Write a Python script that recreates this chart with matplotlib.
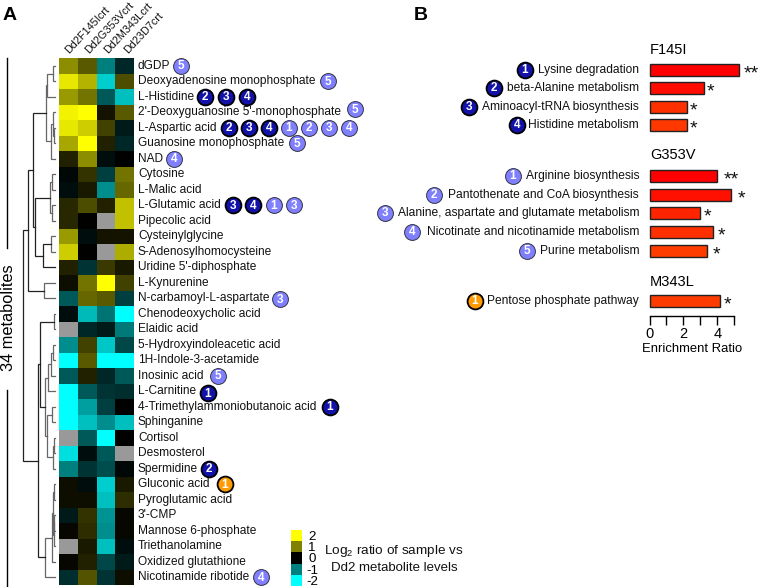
import numpy as np
import matplotlib
matplotlib.use("Agg")
import matplotlib.pyplot as plt
from matplotlib.colors import LinearSegmentedColormap

plt.rcParams['font.family'] = ['Liberation Sans', 'DejaVu Sans']
plt.rcParams['mathtext.default'] = 'regular'

W, H = 758, 587
samples = ['Dd2F145Icrt', 'Dd2G353Vcrt', 'Dd2M343Lcrt', 'Dd23D7crt']
metabolites = ['dGDP', 'Deoxyadenosine monophosphate', 'L-Histidine',
    "2'-Deoxyguanosine 5'-monophosphate", 'L-Aspartic acid', 'Guanosine monophosphate', 'NAD',
    'Cytosine', 'L-Malic acid', 'L-Glutamic acid', 'Pipecolic acid', 'Cysteinylglycine',
    'S-Adenosylhomocysteine', "Uridine 5'-diphosphate", 'L-Kynurenine', 'N-carbamoyl-L-aspartate',
    'Chenodeoxycholic acid', 'Elaidic acid', '5-Hydroxyindoleacetic acid', '1H-Indole-3-acetamide',
    'Inosinic acid', 'L-Carnitine', '4-Trimethylammoniobutanoic acid', 'Sphinganine', 'Cortisol',
    'Desmosterol', 'Spermidine', 'Gluconic acid', 'Pyroglutamic acid', "3'-CMP",
    'Mannose 6-phosphate', 'Triethanolamine', 'Oxidized glutathione', 'Nicotinamide ribotide']
nan = np.nan
f145i = [1.1, 1.8, 1.2, 1.9, 1.8, 1.3, 0.25, -0.05, -0.1, 0.3, 0.3, 1.2, 1.6, 0.25, 0.1, -0.7, -0.1,
         nan, -1.1, -2, -0.7, -2, -2, -2, nan, -1.75, -1.0, 0.1, 0.1, -0.2, 0.05, nan, 0.05, -0.35]
g353v = [0.7, 1.4, 0.9, 2.0, 1.6, 2.0, 1.1, 0.4, 0.2, 0.6, 0, -0.1, 0, -0.4, 0.9, 0.8, -1.45,
         -0.3, 0.5, 0.7, 0.25, -0.7, -1.25, -1.5, -0.7, -0.1, -0.4, -0.1, 0.1, 0.4, 0.35, 0.2, 0.25, 0.65]
m343l = [-1.0, -1.6, -0.7, 0.15, 0.5, 0.25, -0.1, -0.5, -1.1, 0.25, nan, 0.15, nan, 0.45, 2.0, 0.7, -0.9,
         -0.2, -1.55, -2, -0.3, -0.4, -0.5, -1.1, -2, -0.7, -0.6, -1.6, -1.5, -1.15, -1.1, -1.5, -0.55, -0.4]
d3d7 = [-0.3, 0.6, -1.5, 0.7, -0.2, -0.3, 0.0, 0.9, 0.8, 1.5, 1.5, 0.15, 1.35, 0.2, 0.5, -0.5, -2,
        -0.95, -0.55, -2, -0.7, -0.35, 0, -1.5, 0, nan, -0.05, 0.2, 0.35, 0.05, 0.05, -0.1, -0.2, 0.1]

# (row, number, kind, x pixel, y offset)
badges = [(0, 5, 'L', 181, 0), (1, 5, 'L', 328, 0), (2, 2, 'D', 205, 0), (2, 3, 'D', 226, 0), (2, 4, 'D', 247, 0),
          (3, 5, 'L', 355, -3), (4, 2, 'D', 229, 0), (4, 3, 'D', 249, 0), (4, 4, 'D', 269, 0), (4, 1, 'L', 289, 0),
          (4, 2, 'L', 309, 0), (4, 3, 'L', 329, 0), (4, 4, 'L', 349, 0), (5, 5, 'L', 297, 0), (6, 4, 'L', 174, 0),
          (9, 3, 'D', 233, 0), (9, 4, 'D', 253, 0), (9, 1, 'L', 274, 0), (9, 3, 'L', 294, 0), (15, 3, 'L', 280, 1),
          (20, 5, 'L', 218, 0), (21, 1, 'D', 208, 2), (22, 1, 'D', 330, 0), (26, 2, 'D', 209, 0), (27, 1, 'O', 225, 0),
          (33, 4, 'L', 261, 0)]

pathways = ['Lysine degradation', 'beta-Alanine metabolism', 'Aminoacyl-tRNA biosynthesis', 'Histidine metabolism',
            'Arginine biosynthesis', 'Pantothenate and CoA biosynthesis', 'Alanine, aspartate and glutamate metabolism',
            'Nicotinate and nicotinamide metabolism', 'Purine metabolism', 'Pentose phosphate pathway']
enrichment = [5.3, 3.2, 2.2, 2.2, 3.96, 4.82, 2.97, 3.76, 3.4, 4.15]
bar_y = [70, 88, 107, 125, 176, 195, 213, 232, 251, 301]
bar_colors = ['#ff0000', '#ff0c00', '#ff3000', '#ff3800', '#ff0000', '#ff1000', '#ff2400', '#ff3000', '#ff3c00', '#ff3c00']
stars = ['**', '*', '*', '*', '**', '*', '*', '*', '*', '*']
star_x = [751, 710, 693, 693, 731, 741, 707, 721, 716, 727]
path_badge_num = [1, 2, 3, 4, 1, 2, 3, 4, 5, 1]
path_badge_kind = ['D', 'D', 'D', 'D', 'L', 'L', 'L', 'L', 'L', 'O']
path_badge_x = [525, 494, 469, 517, 513, 434, 385, 412, 527, 475]
groups = ['F145I', 'G353V', 'M343L']
group_y = [50, 155, 282]

# dendrogram: (x pixel of join, child, child); ints are rows
tree = (23,
        (28,
         (33,
          (46, (47, (53, 0, 1), 2), (51, (53, 3, (54, 4, 5)), 6)),
          (35, (50, (52, 7, 8), (52, 9, 10)), (43, (51, 11, 12), 13))),
         (44, 14, 15)),
        (38,
         (40, (54, 16, 17),
          (45, (48, (51, (53, 18, 19), 20), 21),
           (47, (52, 22, 23), (53, (54, 24, 25), 26)))),
         (45, (52, (53, (54, 27, 28), (54, (54, 29, 30), 31)), 32), 33)))

cmap = LinearSegmentedColormap.from_list('ybc', ['#00ffff', '#008080', '#000000', '#808000', '#ffff00'])
cmap.set_bad('#999999')


def box(x0, y0, x1, y1):
    return fig.add_axes([x0 / W, 1 - y1 / H, (x1 - x0) / W, (y1 - y0) / H])


fig = plt.figure(figsize=(W / 100, H / 100), dpi=100)

# heat map
TOP, ROW = 58.0, 15.5
ax = box(59, TOP, 134, TOP + ROW * 34)
mat = np.array([f145i, g353v, m343l, d3d7]).T
ax.pcolormesh(np.ma.masked_invalid(mat), cmap=cmap, vmin=-2, vmax=2)
ax.set_ylim(34, 0)
ax.axis('off')

# colour key
key_vals = [2, 1, 0, -1, -2]
kx = box(291, 530, 302, 586)
kx.pcolormesh(np.array(key_vals).reshape(-1, 1), cmap=cmap, vmin=-2, vmax=2)
kx.set_ylim(5, 0)
kx.set_xticks([])
kx.set_yticks(np.arange(5) + .5, [str(v) for v in key_vals], fontsize=9.6)
kx.yaxis.tick_right()
kx.tick_params(axis='y', length=0, pad=7.2)
for lab in kx.get_yticklabels():
    lab.set_ha('center')
for s in kx.spines.values():
    s.set_visible(False)

# bars
bx = box(649.5, 40, 734.2, 316)
bx.barh(bar_y, enrichment, height=12, color=bar_colors, edgecolor='#222222', linewidth=1, clip_on=False)
bx.set_xlim(0, 5)
bx.set_ylim(316, 40)
bx.patch.set_visible(False)
for k in ('top', 'left', 'right'):
    bx.spines[k].set_visible(False)
bx.spines['bottom'].set_linewidth(1)
bx.set_yticks([])
bx.set_xticks([0, 1, 2, 3, 4, 5], ['0', '', '2', '', '4', ''], fontsize=10.5)
bx.tick_params(axis='x', length=6.5, width=1, pad=1.5)
bx.set_xlabel('Enrichment Ratio', fontsize=9.4, labelpad=1.5)

# overlay in pixels for text, badges, dendrogram
ov = fig.add_axes([0, 0, 1, 1], zorder=5)
ov.set_xlim(0, W)
ov.set_ylim(H, 0)
ov.axis('off')
ov.patch.set_visible(False)


def row_y(i):
    return TOP + ROW * (i + .5)


def badge(x, y, n, kind):
    face = {'D': '#1212a8', 'L': '#8080ff', 'O': '#ff9a00'}[kind]
    edge = {'D': '#000000', 'L': '#333344', 'O': '#000000'}[kind]
    lw = {'D': 1.3, 'L': .7, 'O': 1.3}[kind]
    ov.scatter([x], [y], s=130, c=face, edgecolors=edge, linewidths=lw, zorder=6)
    ov.text(x, y + .3, str(n), color='white', fontsize=8.5, fontweight='bold', ha='center', va='center', zorder=7)


for i, name in enumerate(metabolites):
    ov.text(138, row_y(i), name, fontsize=8.55, ha='left', va='center', color='#111111')
for row, n, kind, x, dy in badges:
    badge(x, row_y(row) + dy, n, kind)
for j, s in enumerate(samples):
    ov.text(69 + j * 19.7, 54, s, rotation=47, rotation_mode='anchor', ha='left', va='baseline', fontsize=7.8, color='#111111')


def draw(node):
    if isinstance(node, int):
        return 55, row_y(node)
    x, a, b = node
    xa, ya = draw(a)
    xb, yb = draw(b)
    col = '#666666' if x >= 44 else '#222222'
    ov.plot([xa, x, x, xb], [ya, ya, yb, yb], color=col, lw=.9, solid_joinstyle='miter')
    return x, (ya + yb) / 2


draw(tree)

ov.plot([7, 7], [58, 248], color='black', lw=1)
ov.plot([7, 7], [390, 587], color='black', lw=1)
ov.text(8.5, 318, '34 metabolites', rotation=90, fontsize=11.8, ha='center', va='center')
ov.text(3, 16, 'A', fontsize=14, fontweight='bold', ha='left', va='center')
ov.text(414, 16, 'B', fontsize=14, fontweight='bold', ha='left', va='center')
ov.text(394, 551, 'Log$_2$ ratio of sample vs', fontsize=9.7, ha='center', va='center', color='#111111')
ov.text(394, 568, 'Dd2 metabolite levels', fontsize=9.5, ha='center', va='center', color='#111111')

for g, y in zip(groups, group_y):
    ov.text(650, y, g, fontsize=10.5, ha='left', va='center')
for k, p in enumerate(pathways):
    ov.text(639, bar_y[k], p, fontsize=8.65, ha='right', va='center', color='#111111')
    badge(path_badge_x[k], bar_y[k], path_badge_num[k], path_badge_kind[k])
    ov.text(star_x[k], bar_y[k] + 4, stars[k], fontsize=14, ha='center', va='center', color='#111111')

fig.savefig('out.png', dpi=100)
